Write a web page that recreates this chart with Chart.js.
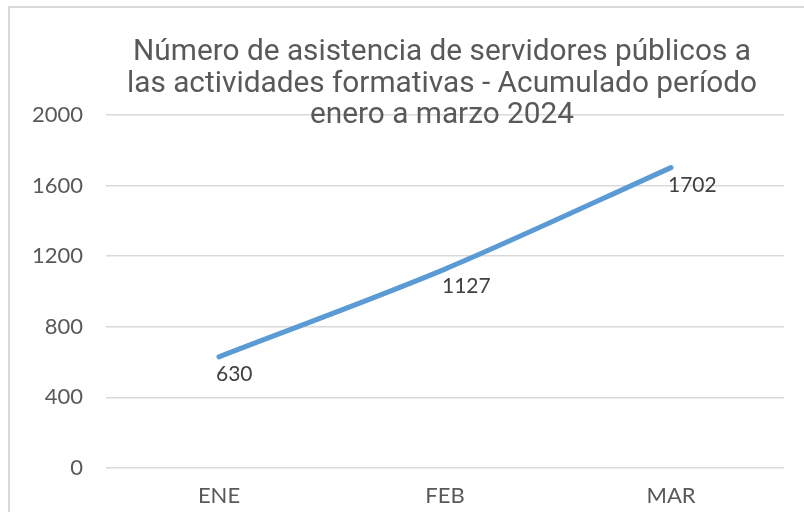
<!DOCTYPE html>
<html>
<head>
<meta charset="utf-8">
<script src="https://cdn.jsdelivr.net/npm/chart.js@4"></script>
<style>
  html, body { margin: 0; padding: 0; background: #fff; }
  #wrap { position: relative; width: 804px; height: 512px; overflow: hidden; }
  #frame { position: absolute; left: 8px; top: 6px; width: 820px; height: 520px;
           border-left: 2px solid #d9d9d9; border-top: 2px solid #d9d9d9; }
  canvas { position: absolute; left: 0; top: 0; }
</style>
</head>
<body>
<div id="wrap">
  <div id="frame"></div>
  <canvas id="chart" width="804" height="512"></canvas>
</div>
<script>
var months = ['ENE', 'FEB', 'MAR'];
var asistencia = [630, 1127, 1702];
var yTicks = [0, 400, 800, 1200, 1600, 2000];
var titleLines = [
    'Número de asistencia de servidores públicos a',
    'las actividades formativas - Acumulado período',
    'enero a marzo 2024'
];

// title is drawn over the plot like the original, so it is not a box in the layout
var titlePlugin = {
    id: 'overTitle',
    afterDraw: function (chart) {
        var ctx = chart.ctx;
        ctx.save();
        ctx.fillStyle = '#595959';
        ctx.font = '29.8px Roboto';
        ctx.textAlign = 'center';
        ctx.textBaseline = 'alphabetic';
        titleLines.forEach(function (line, i) {
            ctx.fillText(line, 442, 60 + i * 31.5);
        });
        ctx.restore();
    }
};

var labelPlugin = {
    id: 'pointLabels',
    afterDatasetsDraw: function (chart) {
        var ctx = chart.ctx;
        var meta = chart.getDatasetMeta(0);
        ctx.save();
        ctx.fillStyle = '#404040';
        ctx.font = '21px Lato';
        ctx.textAlign = 'left';
        ctx.textBaseline = 'top';
        meta.data.forEach(function (pt, i) {
            ctx.fillText(String(asistencia[i]), pt.x - 3, pt.y + 7);
        });
        ctx.restore();
    }
};

var ctx = document.getElementById('chart').getContext('2d');
new Chart(ctx, {
    type: 'line',
    data: {
        labels: months,
        datasets: [{
            data: asistencia,
            borderColor: '#5b9bd5',
            borderWidth: 5,
            borderCapStyle: 'round',
            tension: 0.3,
            pointRadius: 0,
            fill: false
        }]
    },
    options: {
        responsive: false,
        animation: false,
        layout: { padding: { top: 115, right: 20, left: 0, bottom: 0 } },
        plugins: {
            legend: { display: false },
            title: { display: false },
            tooltip: { enabled: false }
        },
        scales: {
            x: {
                offset: true,
                grid: { display: false, drawTicks: false, offset: true },
                border: { display: false },
                ticks: { color: '#595959', font: { family: 'Lato', size: 22 }, padding: 15 },
                afterFit: function (s) { s.height = 44; }
            },
            y: {
                min: 0,
                max: 2000,
                afterBuildTicks: function (s) {
                    s.ticks = yTicks.map(function (v) { return { value: v }; });
                },
                grid: { color: '#d9d9d9', lineWidth: 1.5, drawTicks: false },
                border: { display: false },
                ticks: {
                    color: '#595959',
                    font: { family: 'Lato', size: 22 },
                    padding: 23,
                    callback: function (v) { return String(v); }
                },
                afterFit: function (s) { s.width = 106; }
            }
        }
    },
    plugins: [labelPlugin, titlePlugin]
});
</script>
</body>
</html>
